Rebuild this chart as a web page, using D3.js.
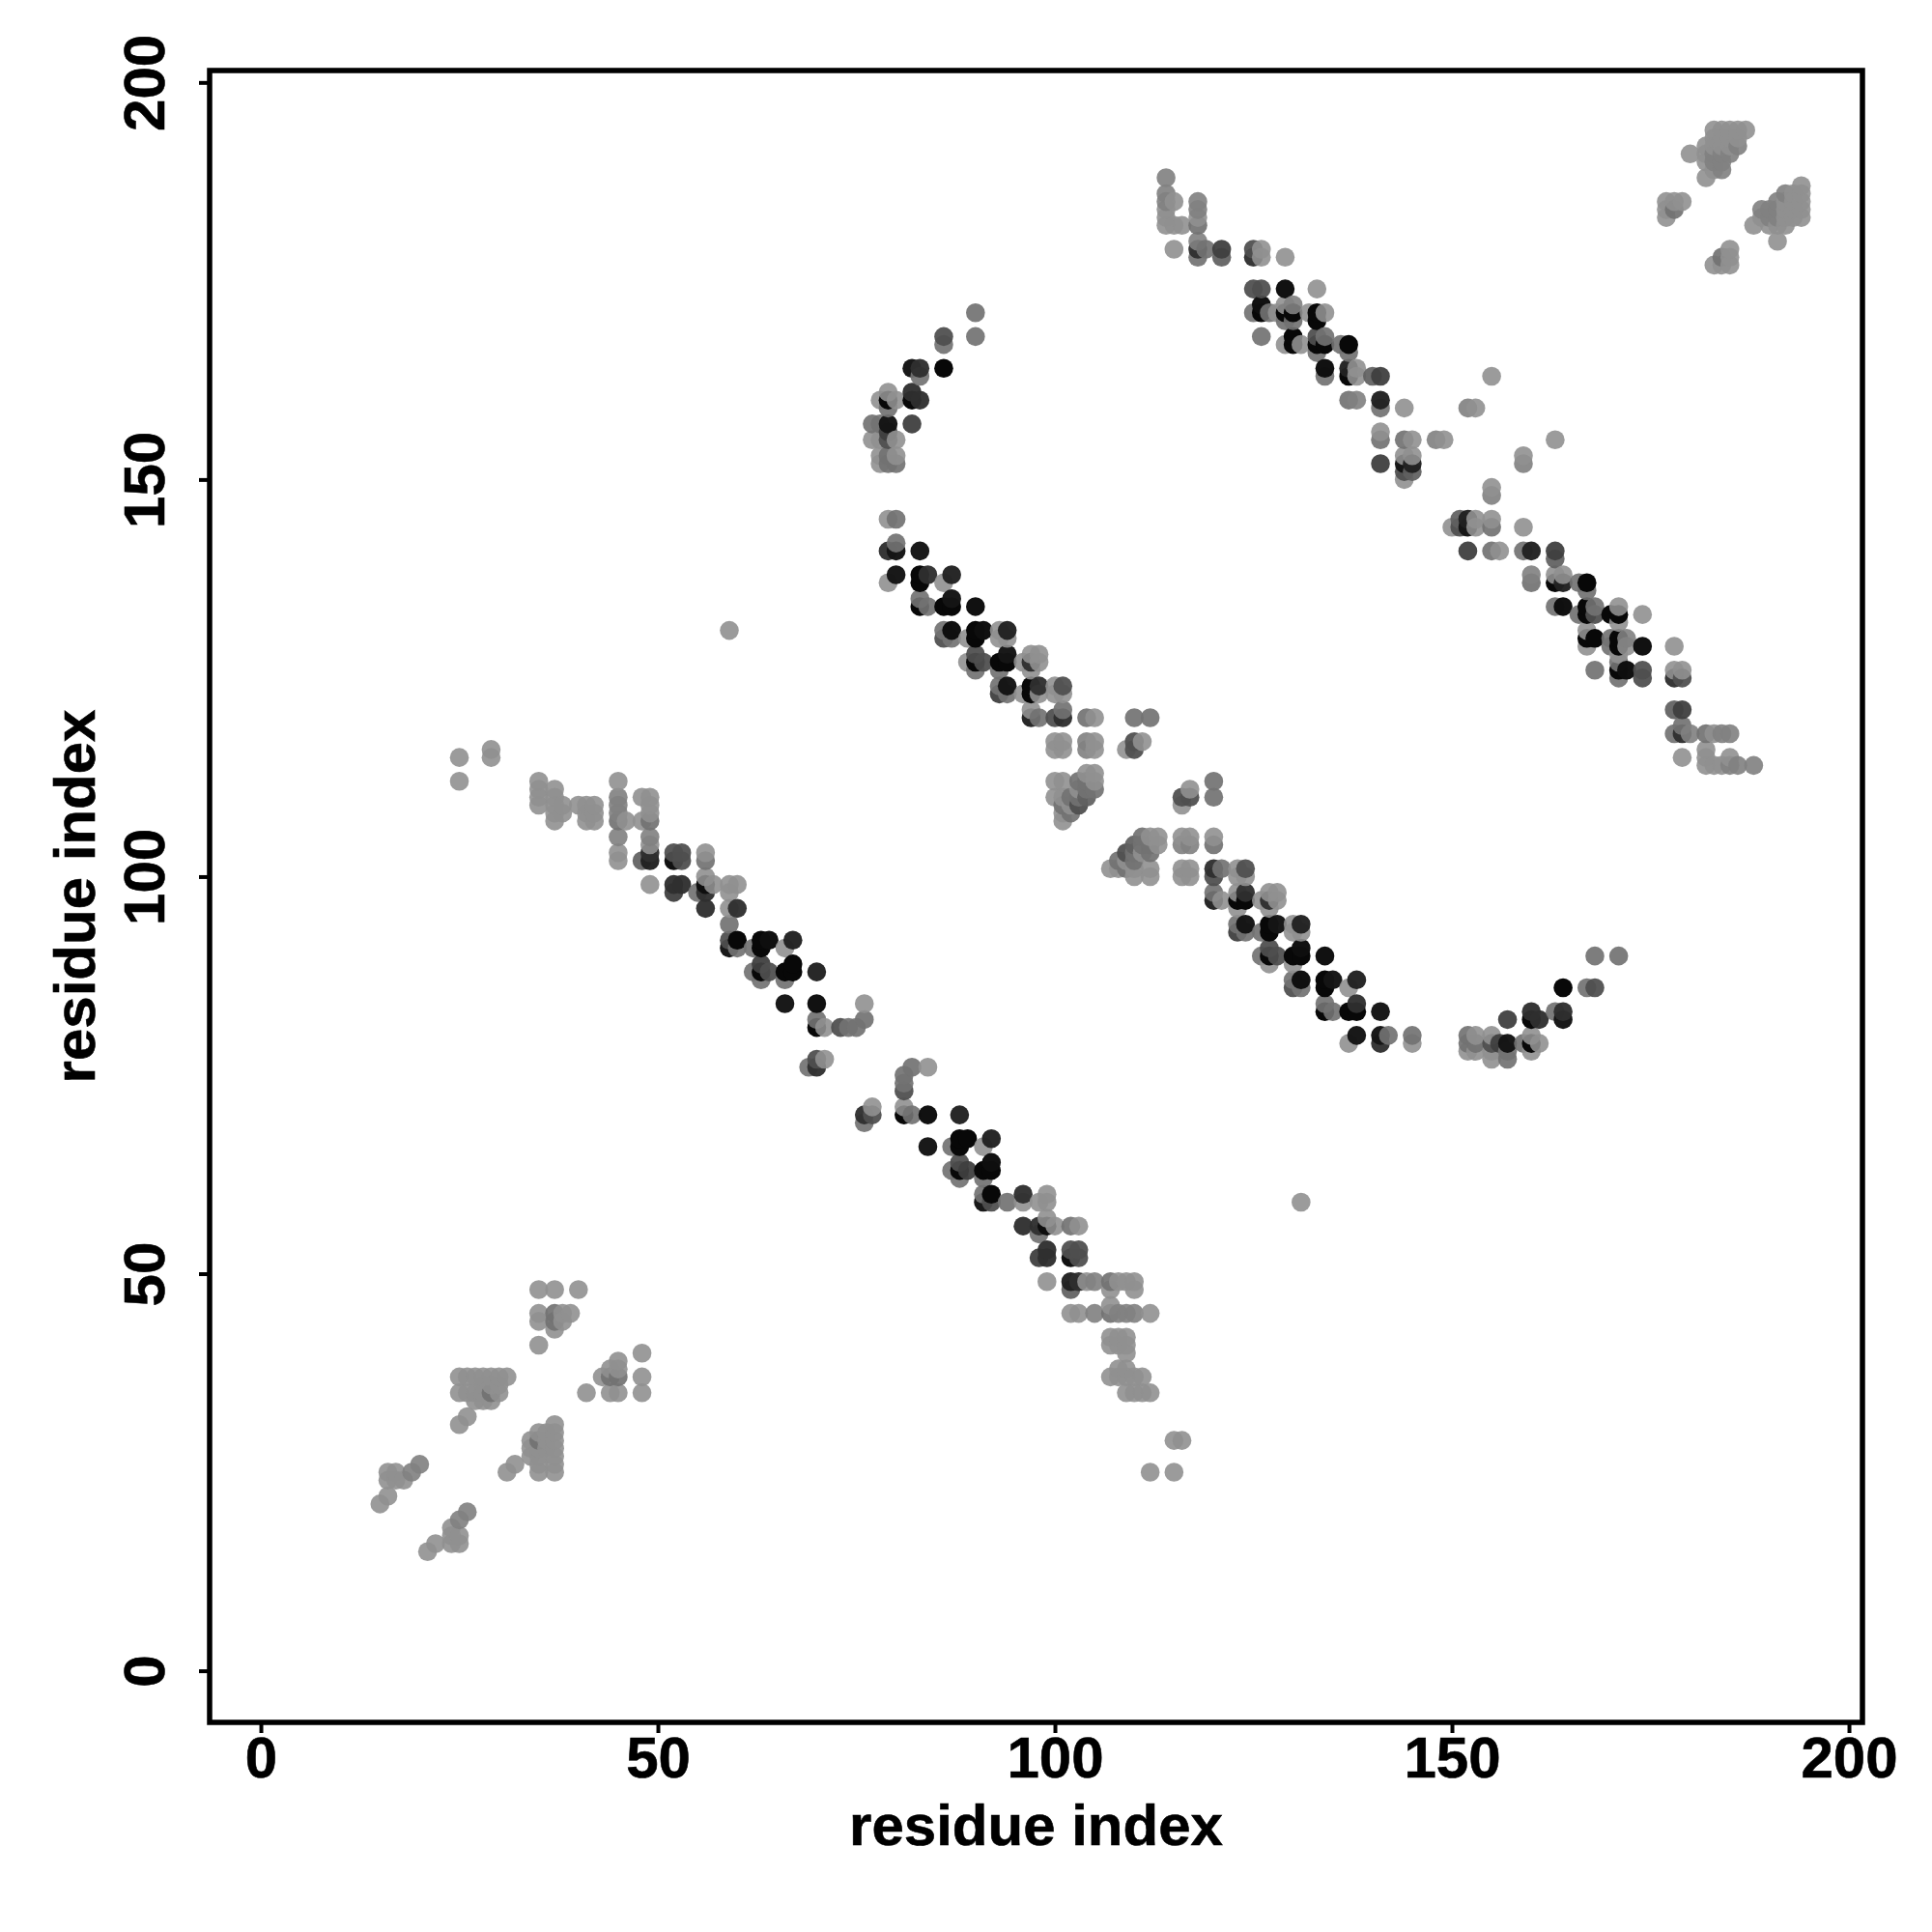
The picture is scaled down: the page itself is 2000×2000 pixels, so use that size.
<!DOCTYPE html>
<html>
<head>
<meta charset="utf-8">
<script src="https://cdn.jsdelivr.net/npm/d3@7/dist/d3.min.js"></script>
<style>
html,body{margin:0;padding:0;background:#fff;}
svg{display:block;}
text{font-family:"Liberation Sans",Arial,sans-serif;font-weight:bold;fill:#000;stroke:#000;stroke-width:0.6px;}
</style>
</head>
<body>
<svg id="chart" width="2000" height="2000"></svg>
<script>
// Each contact: [residue i, residue j (i<j), score]; the map is symmetric, so the mirror is drawn too.
const contactsNearA = [[15,21,0],[16,22,0],[16,24,0],[16,25,0],[17,24,0],[17,25,0],[18,24,0],[19,25,.1],[20,26,.1]];
const contactsNearB = [[25,31,0],[26,32,0],[25,35,0],[26,35,0],[25,37,0],[26,37,0],[27,34,0],[27,35,0],[27,37,0],[28,34,0],[28,35,0],[28,36,0],[28,37,0],[29,34,0],[29,35,.2],[29,36,0],[29,37,0],[30,35,0],[30,36,0],[30,37,0],[31,37,0]];
const contactsNearC = [[35,41,0],[35,44,0],[35,45,0],[35,48,0],[37,43,0],[37,44,.2],[37,45,.2],[38,44,0],[38,45,0],[39,45,0],[37,48,0],[40,48,0]];
const contactsBandOne = [
[25,112,0],[25,115,0],[29,115,0],[29,116,0],
[35,109,0],[35,110,0],[35,111,0],[35,112,0],[37,107,0],[37,108,0],[37,109,0],[37,110,0],[37,111,0],[38,108,0],[38,109,0],[40,109,0],[41,107,0],[41,108,0],[41,109,0],[42,107,0],[42,108,0],[42,109,0],
[45,102,0],[45,103,0],[45,105,.1],[45,107,.2],[45,108,.1],[45,109,.1],[45,110,.1],[45,112,0],[46,107,0],
[48,102,.3],[48,107,0],[48,110,0],[49,99,0],[49,102,.7],[49,103,.6],[49,104,0],[49,105,.1],[49,107,.2],[49,108,0],[49,109,0],[49,110,0],
[52,98,.5],[52,99,.6],[52,102,.9],[52,103,.4],[53,99,.6],[53,102,.4],[53,103,.4],
[55,98,.2],[56,96,.6],[56,98,.6],[56,99,.9],[56,100,0],[56,102,.2],[56,103,0],[57,99,0],
[59,91,.8],[59,92,.4],[59,94,.2],[59,96,0],[59,98,0],[59,99,0],[60,91,.2],[60,92,1],[60,96,.6],[60,99,0],
[62,88,.2],[62,91,.2],[63,87,.2],[63,88,1],[63,89,.5],[63,91,1],[63,92,1],[64,88,.4],[64,92,.9],
[66,84,.8],[66,87,.2],[66,88,1],[66,91,0],[67,88,1],[67,89,1],[67,92,.7],
[69,76,.2],[70,76,.6],[70,77,.4],[70,81,1],[70,82,.2],[70,84,.9],[70,88,.7],
[71,77,0],[71,81,0],[73,81,.4],[74,81,.2],[75,81,.2],[76,82,.2],[76,84,0]
];
const contactsLoneOutlier = [[59,131,0]];
const contactsBandTwo = [
[79,137,0],[79,141,.6],[79,145,0],[80,138,.8],[80,141,.8],[80,142,.2],[80,145,.2],
[83,134,1],[83,135,.2],[83,137,1],[83,138,1],[83,141,.8],[84,134,.2],[84,138,.6],
[86,130,.4],[86,131,.2],[86,134,1],[86,137,0],[87,130,.2],[87,131,.9],[87,134,1],[87,135,.8],[87,138,.7],
[89,127,0],[89,130,0],[90,126,.2],[90,127,1],[90,128,.4],[90,130,1],[90,131,1],[90,134,.9],[91,127,.4],[91,131,.9],
[93,123,.5],[93,124,.2],[93,126,.2],[93,127,1],[93,130,0],[93,131,0],[94,123,.2],[94,124,.8],[94,127,1],[94,128,.8],[94,130,0],[94,131,.7],
[96,123,0],[96,127,0],[97,120,.7],[97,121,0],[97,123,1],[97,124,1],[97,126,0],[97,127,.6],[97,128,0],[98,120,.2],[98,123,0],[98,124,.6],[98,127,0],[98,128,0],
[100,116,0],[100,117,0],[100,120,.4],[100,123,0],[100,124,0],[101,116,0],[101,117,0],[101,120,.6],[101,121,.2],[101,123,0],[101,124,.4],
[104,116,.1],[104,117,.1],[104,120,.2],[105,116,0],[105,117,0],[105,120,0],
[109,116,0],[110,116,.4],[110,117,.4],[110,120,.2],[111,117,0],[112,120,.2]
];
const contactsPatch = [
[100,110,0],[100,112,0],[101,107,0],[101,108,0],[101,109,.2],[101,110,0],[101,112,0],[102,108,.2],[102,109,0],[102,110,.2],
[103,109,.4],[103,110,.2],[103,111,0],[103,112,.2],[104,110,.3],[104,111,.2],[104,112,.2],[104,113,0],[105,111,.2],[105,112,0],[105,113,0]
];
const contactsArc = [
[77,155,0],[77,157,.2],[78,152,0],[78,153,0],[78,155,0],[78,157,.2],[78,160,0],[79,152,.2],[79,153,.2],[79,155,.4],[79,156,.5],[79,157,.8],[79,159,.2],[79,160,1],[79,161,0],[80,152,.2],[80,153,0],[80,155,0],[80,160,0],
[82,157,.5],[82,160,1],[82,161,.6],[82,164,.8],[83,160,.6],[83,163,.2],[83,164,.6],[86,164,1],[86,167,.2],[86,168,.4],[90,168,.2],[90,171,.2]
];
const contactsBandThree = [
[114,182,0],[114,183,0],[114,184,0],[114,185,.1],[114,186,.1],[114,188,.1],[115,179,0],[115,182,0],[115,185,0],[116,182,0],
[118,178,.2],[118,179,.6],[118,180,.1],[118,182,.2],[118,183,0],[118,184,.1],[118,185,.1],[119,179,.2],[121,178,.3],[121,179,.5],
[125,171,.2],[125,174,.4],[125,178,.6],[125,179,.4],[126,168,.2],[126,171,1],[126,172,.9],[126,174,.4],[126,178,0],[126,179,0],
[127,171,.2],[128,171,0],[129,167,0],[129,170,.2],[129,171,1],[129,172,0],[129,174,.9],[129,178,0],
[130,167,1],[130,168,1],[130,170,.2],[130,171,1],[130,172,.1],[131,167,0],[132,171,0],[133,166,.2],[133,167,1],[133,168,.4],[133,170,1],[133,171,1],[133,174,0],
[134,163,.2],[134,164,.9],[134,167,1],[134,168,.2],[134,171,0],[136,167,.2],[137,160,.2],[137,163,1],[137,164,.7],[137,166,.2],[137,167,1],
[138,160,.1],[138,163,0],[138,164,0],[140,163,.3],[141,152,.5],[141,155,.2],[141,156,0],[141,159,.2],[141,160,.7],[141,163,.5],
[144,150,0],[144,151,.4],[144,152,.8],[144,153,0],[144,155,.2],[144,159,0],[145,151,.3],[145,152,.7],[145,153,0],[145,155,0],
[148,155,.1],[149,155,0],[152,159,.1],[153,159,0],[155,163,0]
];
const contactsCornerA = [[177,183,0],[177,184,0],[177,185,0],[178,184,.2],[178,185,0],[179,185,0]];
const contactsCornerB = [
[180,191,0],[182,188,0],[182,190,0],[182,191,0],[182,192,0],[183,189,0],[183,190,.1],[183,191,.1],[183,192,0],[183,193,0],[183,194,0],
[184,189,.1],[184,190,.1],[184,191,.1],[184,192,0],[184,193,0],[184,194,0],[185,191,.1],[185,192,0],[185,193,0],[185,194,0],[186,192,.1],[186,193,0],[186,194,0],[187,194,0]
];
const xTickValues = [0, 50, 100, 150, 200];
const yTickValues = [0, 50, 100, 150, 200];
const xTitle = "residue index";
const yTitle = "residue index";

const upper = [].concat(contactsNearA, contactsNearB, contactsNearC, contactsBandOne, contactsLoneOutlier,
  contactsBandTwo, contactsPatch, contactsArc, contactsBandThree, contactsCornerA, contactsCornerB);
const points = upper.concat(upper.map(d => [d[1], d[0], d[2]]))
  .sort((a, b) => d3.ascending(a[0], b[0]) || d3.ascending(a[1], b[1]));

const frame = {left: 217, right: 1928, top: 73, bottom: 1783};
const x = d3.scaleLinear().domain([-6.45, 201.7]).range([frame.left, frame.right]);
const y = d3.scaleLinear().domain([-6.5, 201.5]).range([frame.bottom, frame.top]);
const level = d3.scaleLinear().domain([0, .2, .4, .6, .8, 1]).range([155, 125, 90, 55, 25, 8]);
const alpha = d3.scaleLinear().domain([0, 1]).range([0.9, 1]);
const fillFor = s => {
  const a = alpha(s), c = Math.max(0, Math.round((level(s) - 255 * (1 - a)) / a));
  return `rgb(${c},${c},${c})`;
};

const svg = d3.select("#chart");
svg.append("g").selectAll("circle").data(points).join("circle")
  .attr("cx", d => x(d[0])).attr("cy", d => y(d[1])).attr("r", 9.8)
  .attr("fill", d => fillFor(d[2])).attr("fill-opacity", d => alpha(d[2]));

const xAxis = svg.append("g").attr("transform", `translate(0,${frame.bottom})`)
  .call(d3.axisBottom(x).tickValues(xTickValues).tickSize(11).tickPadding(0));
xAxis.select(".domain").remove();
xAxis.selectAll("line").attr("stroke", "#000").attr("stroke-width", 4);
xAxis.selectAll("text").attr("y", 57).attr("dy", 0).attr("font-size", 60);

const yAxis = svg.append("g").attr("transform", `translate(${frame.left},0)`)
  .call(d3.axisLeft(y).tickValues(yTickValues).tickSize(11).tickPadding(0));
yAxis.select(".domain").remove();
yAxis.selectAll("line").attr("stroke", "#000").attr("stroke-width", 4);
yAxis.selectAll("text")
  .attr("x", 0).attr("dy", 0).attr("y", 0)
  .attr("text-anchor", "middle").attr("font-size", 60)
  .attr("transform", "translate(-47,0) rotate(-90)");

svg.append("rect").attr("x", frame.left).attr("y", frame.top)
  .attr("width", frame.right - frame.left).attr("height", frame.bottom - frame.top)
  .attr("fill", "none").attr("stroke", "#000").attr("stroke-width", 5.5);

svg.append("text").attr("x", (frame.left + frame.right) / 2).attr("y", 1910)
  .attr("text-anchor", "middle").attr("font-size", 60).text(xTitle);
svg.append("text").attr("transform", `translate(98,${(frame.top + frame.bottom) / 2}) rotate(-90)`)
  .attr("text-anchor", "middle").attr("font-size", 60).text(yTitle);
</script>
</body>
</html>
